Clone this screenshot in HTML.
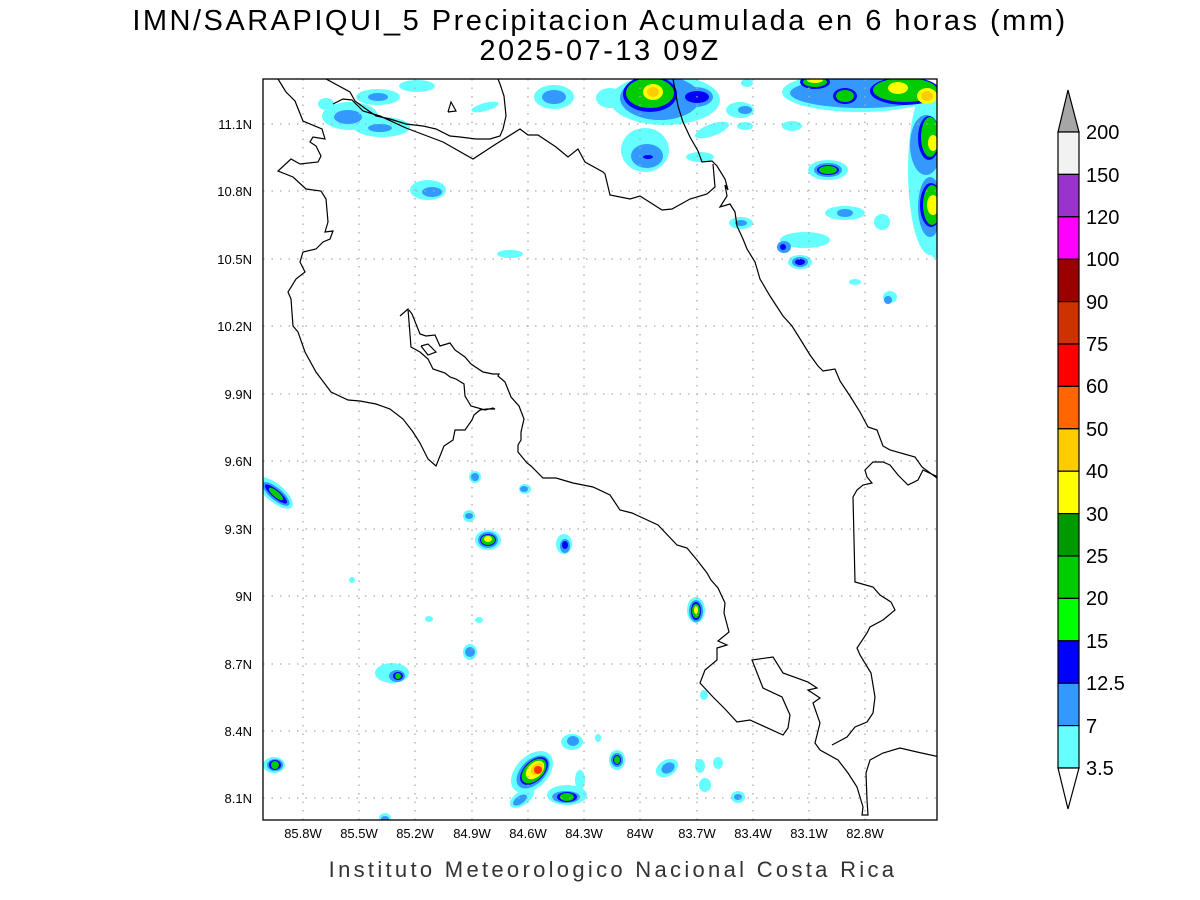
<!DOCTYPE html>
<html><head><meta charset="utf-8"><style>
html,body{margin:0;padding:0;background:#fff;}
svg{display:block;font-family:"Liberation Sans",sans-serif;}
</style></head><body>
<svg width="1200" height="900" viewBox="0 0 1200 900" xmlns="http://www.w3.org/2000/svg">
<rect width="1200" height="900" fill="#fff"/>
<text x="600" y="30" font-size="29" text-anchor="middle" letter-spacing="2.5" fill="#000">IMN/SARAPIQUI_5 Precipitacion Acumulada en 6 horas (mm)</text>
<text x="600" y="60" font-size="29" text-anchor="middle" letter-spacing="2.5" fill="#000">2025-07-13 09Z</text>
<defs><clipPath id="c"><rect x="263" y="79" width="674" height="741"/></clipPath></defs>
<g clip-path="url(#c)">
<g fill="#66ffff">
<ellipse cx="378" cy="97" rx="22" ry="8"/>
<ellipse cx="350" cy="116" rx="28" ry="14"/>
<ellipse cx="382" cy="127" rx="28" ry="10"/>
<ellipse cx="326" cy="104" rx="8" ry="6"/>
<ellipse cx="417" cy="86" rx="18" ry="6"/>
<ellipse cx="485" cy="107" rx="14" ry="4" transform="rotate(-15 485 107)"/>
<ellipse cx="428" cy="190" rx="18" ry="10"/>
<ellipse cx="510" cy="254" rx="13" ry="4"/>
<ellipse cx="554" cy="97" rx="20" ry="12"/>
<ellipse cx="610" cy="98" rx="14" ry="10"/>
<ellipse cx="665" cy="100" rx="55" ry="25"/>
<ellipse cx="645" cy="150" rx="24" ry="22"/>
<ellipse cx="740" cy="110" rx="14" ry="8"/>
<ellipse cx="712" cy="130" rx="18" ry="6" transform="rotate(-20 712 130)"/>
<ellipse cx="700" cy="157" rx="14" ry="5"/>
<ellipse cx="745" cy="126" rx="8" ry="4"/>
<ellipse cx="792" cy="126" rx="10" ry="5"/>
<ellipse cx="860" cy="92" rx="78" ry="20"/>
<ellipse cx="930" cy="170" rx="22" ry="85"/>
<ellipse cx="828" cy="170" rx="20" ry="10"/>
<ellipse cx="741" cy="223" rx="12" ry="6"/>
<ellipse cx="805" cy="240" rx="25" ry="8"/>
<ellipse cx="800" cy="262" rx="12" ry="7"/>
<ellipse cx="845" cy="213" rx="20" ry="7"/>
<ellipse cx="882" cy="222" rx="8" ry="8"/>
<ellipse cx="890" cy="297" rx="7" ry="6"/>
<ellipse cx="855" cy="282" rx="6" ry="3"/>
<ellipse cx="747" cy="83" rx="6" ry="4"/>
<ellipse cx="275" cy="493" rx="22" ry="9" transform="rotate(40 275 493)"/>
<ellipse cx="475" cy="477" rx="6" ry="6"/>
<ellipse cx="469" cy="516" rx="6" ry="6"/>
<ellipse cx="488" cy="540" rx="13" ry="10"/>
<ellipse cx="525" cy="489" rx="6" ry="5"/>
<ellipse cx="564" cy="544" rx="8" ry="10"/>
<ellipse cx="352" cy="580" rx="3" ry="3"/>
<ellipse cx="429" cy="619" rx="4" ry="3"/>
<ellipse cx="479" cy="620" rx="4" ry="3"/>
<ellipse cx="470" cy="652" rx="7" ry="8"/>
<ellipse cx="696" cy="610" rx="9" ry="13"/>
<ellipse cx="392" cy="673" rx="17" ry="10"/>
<ellipse cx="704" cy="695" rx="4" ry="5"/>
<ellipse cx="274" cy="765" rx="11" ry="8"/>
<ellipse cx="532" cy="772" rx="25" ry="16" transform="rotate(-45 532 772)"/>
<ellipse cx="522" cy="798" rx="14" ry="7" transform="rotate(-35 522 798)"/>
<ellipse cx="567" cy="795" rx="20" ry="10"/>
<ellipse cx="580" cy="780" rx="5" ry="10"/>
<ellipse cx="572" cy="742" rx="11" ry="8"/>
<ellipse cx="598" cy="738" rx="3" ry="4"/>
<ellipse cx="617" cy="760" rx="8" ry="10"/>
<ellipse cx="667" cy="768" rx="12" ry="8" transform="rotate(-30 667 768)"/>
<ellipse cx="700" cy="766" rx="5" ry="7"/>
<ellipse cx="718" cy="763" rx="5" ry="6"/>
<ellipse cx="705" cy="785" rx="6" ry="7"/>
<ellipse cx="738" cy="797" rx="7" ry="6"/>
<ellipse cx="385" cy="818" rx="6" ry="5"/>
<ellipse cx="935" cy="252" rx="4" ry="6"/>
</g>
<g fill="#3399ff">
<ellipse cx="378" cy="97" rx="10" ry="4"/>
<ellipse cx="348" cy="117" rx="14" ry="7"/>
<ellipse cx="380" cy="128" rx="12" ry="4"/>
<ellipse cx="432" cy="192" rx="10" ry="5"/>
<ellipse cx="554" cy="97" rx="12" ry="7"/>
<ellipse cx="660" cy="98" rx="40" ry="22"/>
<ellipse cx="695" cy="97" rx="18" ry="10"/>
<ellipse cx="647" cy="156" rx="16" ry="12"/>
<ellipse cx="745" cy="110" rx="7" ry="4"/>
<ellipse cx="862" cy="93" rx="72" ry="15"/>
<ellipse cx="926" cy="145" rx="16" ry="30"/>
<ellipse cx="930" cy="207" rx="12" ry="30"/>
<ellipse cx="828" cy="170" rx="14" ry="7"/>
<ellipse cx="741" cy="223" rx="6" ry="3"/>
<ellipse cx="784" cy="247" rx="7" ry="6"/>
<ellipse cx="800" cy="262" rx="8" ry="5"/>
<ellipse cx="845" cy="213" rx="8" ry="4"/>
<ellipse cx="888" cy="300" rx="4" ry="4"/>
<ellipse cx="276" cy="494" rx="17" ry="6" transform="rotate(40 276 494)"/>
<ellipse cx="475" cy="477" rx="4" ry="4"/>
<ellipse cx="469" cy="516" rx="4" ry="3"/>
<ellipse cx="488" cy="540" rx="10" ry="8"/>
<ellipse cx="524" cy="489" rx="4" ry="3"/>
<ellipse cx="565" cy="546" rx="5" ry="7"/>
<ellipse cx="470" cy="652" rx="5" ry="5"/>
<ellipse cx="696" cy="611" rx="7" ry="11"/>
<ellipse cx="397" cy="676" rx="8" ry="6"/>
<ellipse cx="275" cy="765" rx="8" ry="6"/>
<ellipse cx="533" cy="772" rx="20" ry="12" transform="rotate(-45 533 772)"/>
<ellipse cx="520" cy="800" rx="8" ry="4" transform="rotate(-35 520 800)"/>
<ellipse cx="566" cy="797" rx="14" ry="6"/>
<ellipse cx="573" cy="741" rx="6" ry="5"/>
<ellipse cx="617" cy="760" rx="6" ry="7"/>
<ellipse cx="668" cy="768" rx="7" ry="5" transform="rotate(-30 668 768)"/>
<ellipse cx="738" cy="797" rx="4" ry="3"/>
<ellipse cx="385" cy="819" rx="4" ry="3"/>
</g>
<g fill="#0000ff">
<ellipse cx="650" cy="94" rx="27" ry="18"/>
<ellipse cx="697" cy="97" rx="12" ry="6"/>
<ellipse cx="648" cy="157" rx="5" ry="2"/>
<ellipse cx="815" cy="82" rx="15" ry="7"/>
<ellipse cx="845" cy="96" rx="12" ry="8"/>
<ellipse cx="905" cy="91" rx="35" ry="14"/>
<ellipse cx="929" cy="138" rx="11" ry="22"/>
<ellipse cx="931" cy="205" rx="11" ry="22"/>
<ellipse cx="828" cy="170" rx="11" ry="5"/>
<ellipse cx="783" cy="247" rx="3" ry="3"/>
<ellipse cx="800" cy="262" rx="5" ry="3"/>
<ellipse cx="276" cy="494" rx="14" ry="4" transform="rotate(40 276 494)"/>
<ellipse cx="488" cy="540" rx="8" ry="6"/>
<ellipse cx="565" cy="545" rx="3" ry="4"/>
<ellipse cx="696" cy="611" rx="5" ry="9"/>
<ellipse cx="398" cy="676" rx="5" ry="4"/>
<ellipse cx="275" cy="765" rx="6" ry="5"/>
<ellipse cx="534" cy="771" rx="17" ry="10" transform="rotate(-45 534 771)"/>
<ellipse cx="567" cy="797" rx="10" ry="5"/>
<ellipse cx="617" cy="760" rx="4" ry="5"/>
</g>
<g fill="#00cc00">
<ellipse cx="650" cy="93" rx="24" ry="15"/>
<ellipse cx="815" cy="82" rx="12" ry="5"/>
<ellipse cx="845" cy="96" rx="9" ry="6"/>
<ellipse cx="905" cy="90" rx="32" ry="12"/>
<ellipse cx="930" cy="137" rx="9" ry="20"/>
<ellipse cx="932" cy="205" rx="9" ry="20"/>
<ellipse cx="828" cy="170" rx="9" ry="4"/>
<ellipse cx="276" cy="494" rx="9" ry="3" transform="rotate(40 276 494)"/>
<ellipse cx="488" cy="540" rx="7" ry="5"/>
<ellipse cx="696" cy="611" rx="4" ry="7"/>
<ellipse cx="398" cy="676" rx="3" ry="3"/>
<ellipse cx="275" cy="765" rx="4" ry="4"/>
<ellipse cx="534" cy="771" rx="15" ry="9" transform="rotate(-45 534 771)"/>
<ellipse cx="567" cy="797" rx="7" ry="4"/>
<ellipse cx="617" cy="760" rx="3" ry="4"/>
</g>
<g fill="#ffff00">
<ellipse cx="653" cy="92" rx="10" ry="8"/>
<ellipse cx="815" cy="80" rx="8" ry="3"/>
<ellipse cx="898" cy="88" rx="10" ry="6"/>
<ellipse cx="927" cy="96" rx="10" ry="8"/>
<ellipse cx="933" cy="143" rx="5" ry="8"/>
<ellipse cx="933" cy="205" rx="6" ry="10"/>
<ellipse cx="488" cy="539" rx="4" ry="3"/>
<ellipse cx="696" cy="610" rx="2" ry="4"/>
<ellipse cx="535" cy="770" rx="11" ry="7" transform="rotate(-45 535 770)"/>
</g>
<g fill="#ffcc00">
<ellipse cx="653" cy="92" rx="6" ry="5"/>
<ellipse cx="927" cy="96" rx="6" ry="5"/>
<ellipse cx="537" cy="769" rx="7" ry="5" transform="rotate(-45 537 769)"/>
</g>
<ellipse cx="538" cy="770" rx="4" ry="4" fill="#ff3300"/>
</g>
<g stroke="#aaa" stroke-width="1.3" stroke-dasharray="1.5 7" fill="none">
<path d="M303 79V820M359 79V820M415 79V820M472 79V820M528 79V820M584 79V820M640 79V820M697 79V820M753 79V820M809 79V820M865 79V820"/>
<path d="M263 124H937M263 191H937M263 259H937M263 326H937M263 394H937M263 461H937M263 529H937M263 596H937M263 664H937M263 731H937M263 798H937"/>
</g>
<g clip-path="url(#c)" fill="none" stroke="#000" stroke-width="1.2">
<polyline points="278,79 286,92 295,101 303,121 322,129 325,139 313,137 310,142 316,146 321,156 318,162 300,164 291,159 278,171 293,177 306,189 321,191 326,199 328,222 325,232 333,231 330,239 323,242 316,249 303,252 300,262 305,272 296,279 288,292 291,299 293,326 298,332 305,352 316,372 331,392 348,400 360,401 376,404 390,409 403,419 413,432 420,443 428,459 436,466 444,446 453,440 455,430 465,430 472,420 474,415 480,410 487,409 495,409 493,408 485,410 471,406 465,396 464,384 456,379 450,377 445,373 433,369 428,359 420,352 411,347 408,309 400,316"/>
<polyline points="409,310 412,314 420,334 426,336 435,335 440,346 450,343 455,350 465,357 471,364 483,372 493,374 499,374 498,376 505,382 511,397 519,406 524,419 521,432 521,440 518,445 518,452 527,463 531,466 543,478 556,478 573,483 593,487 610,495 620,510 632,513 658,525 677,545 687,548 697,560 707,573 711,580 718,588 725,603 724,613 729,632 718,641 727,645 717,648 717,660 705,670 700,683 713,697 725,709 737,722 750,720 783,735 788,728 790,715 782,697 763,688 752,660 773,657 783,673 808,682 817,688 808,690 820,698 813,703 820,723 815,743 820,750 838,760 848,773 857,787 863,807 862,815 868,815 867,800 866,773 870,760 883,753 900,748 917,752 940,757"/>
<polyline points="832,745 847,737 855,727 867,722 873,713 875,697 871,673 860,655 857,648 867,633 870,627 883,620 895,610 891,602 880,595 873,587 855,582 853,497 857,490 863,485 872,483 867,477 865,470 873,462 883,462 890,465 898,475 908,485 918,480 923,470 940,478"/>
<polyline points="673,79 678,106 683,122 690,137 698,151 702,162 712,161 717,166 725,179 728,190 725,185 727,196 720,207 730,204 735,212 737,226 743,239 747,249 755,262 760,279 770,296 783,316 792,326 802,342 810,355 818,366 823,371 835,369 840,381 850,396 860,412 868,427 877,430 883,446 890,450 915,457 922,467 937,478"/>
<polyline points="326,79 350,92 355,101 366,109 376,116 390,119 406,124 423,126 436,129 450,136 460,137 476,139 490,139 500,136 503,129 506,116 504,96 500,84 498,79"/>
<polyline points="333,104 343,99 352,100 363,111 380,116 406,128 443,142 473,159 496,144 520,129 528,135 538,135 556,147 568,157 578,149 585,162 603,172 603,172 605,174 610,195 630,199 640,196 662,210 672,209 690,199 707,194 715,187 713,164"/>
<polyline points="448,112 451,102 456,111 448,112"/>
<polyline points="421,346 428,344 436,352 428,355 421,346"/>
</g>
<rect x="263" y="79" width="674" height="741" fill="none" stroke="#000" stroke-width="1.3"/>
<g font-size="13" fill="#000" text-anchor="middle">
<text x="303" y="838">85.8W</text><text x="359" y="838">85.5W</text><text x="415" y="838">85.2W</text><text x="472" y="838">84.9W</text><text x="528" y="838">84.6W</text><text x="584" y="838">84.3W</text><text x="640" y="838">84W</text><text x="697" y="838">83.7W</text><text x="753" y="838">83.4W</text><text x="809" y="838">83.1W</text><text x="865" y="838">82.8W</text>
</g>
<g font-size="13" fill="#000" text-anchor="end">
<text x="252" y="129">11.1N</text><text x="252" y="196">10.8N</text><text x="252" y="264">10.5N</text><text x="252" y="331">10.2N</text><text x="252" y="399">9.9N</text><text x="252" y="466">9.6N</text><text x="252" y="534">9.3N</text><text x="252" y="601">9N</text><text x="252" y="669">8.7N</text><text x="252" y="736">8.4N</text><text x="252" y="803">8.1N</text>
</g>
<text x="613" y="877" font-size="22" text-anchor="middle" letter-spacing="3.3" fill="#333">Instituto Meteorologico Nacional Costa Rica</text>
<g stroke="#000" stroke-width="1.2">
<polygon points="1058,132 1068,90 1079,132" fill="#a6a6a6"/>
<rect x="1058" y="132" width="21" height="42.4" fill="#f2f2f2"/>
<rect x="1058" y="174.4" width="21" height="42.4" fill="#9933cc"/>
<rect x="1058" y="216.8" width="21" height="42.4" fill="#ff00ff"/>
<rect x="1058" y="259.2" width="21" height="42.4" fill="#990000"/>
<rect x="1058" y="301.6" width="21" height="42.4" fill="#cc3300"/>
<rect x="1058" y="344" width="21" height="42.4" fill="#ff0000"/>
<rect x="1058" y="386.4" width="21" height="42.4" fill="#ff6600"/>
<rect x="1058" y="428.8" width="21" height="42.4" fill="#ffcc00"/>
<rect x="1058" y="471.2" width="21" height="42.4" fill="#ffff00"/>
<rect x="1058" y="513.6" width="21" height="42.4" fill="#009900"/>
<rect x="1058" y="556" width="21" height="42.4" fill="#00cc00"/>
<rect x="1058" y="598.4" width="21" height="42.4" fill="#00ff00"/>
<rect x="1058" y="640.8" width="21" height="42.4" fill="#0000ff"/>
<rect x="1058" y="683.2" width="21" height="42.4" fill="#3399ff"/>
<rect x="1058" y="725.6" width="21" height="42.4" fill="#66ffff"/>
<polygon points="1058,768 1068,809 1079,768" fill="#fff"/>
</g>
<g font-size="20" fill="#000">
<text x="1086" y="139">200</text><text x="1086" y="182">150</text><text x="1086" y="224">120</text><text x="1086" y="266">100</text><text x="1086" y="309">90</text><text x="1086" y="351">75</text><text x="1086" y="393">60</text><text x="1086" y="436">50</text><text x="1086" y="478">40</text><text x="1086" y="521">30</text><text x="1086" y="563">25</text><text x="1086" y="605">20</text><text x="1086" y="648">15</text><text x="1086" y="690">12.5</text><text x="1086" y="733">7</text><text x="1086" y="775">3.5</text>
</g>
</svg>
</body></html>
